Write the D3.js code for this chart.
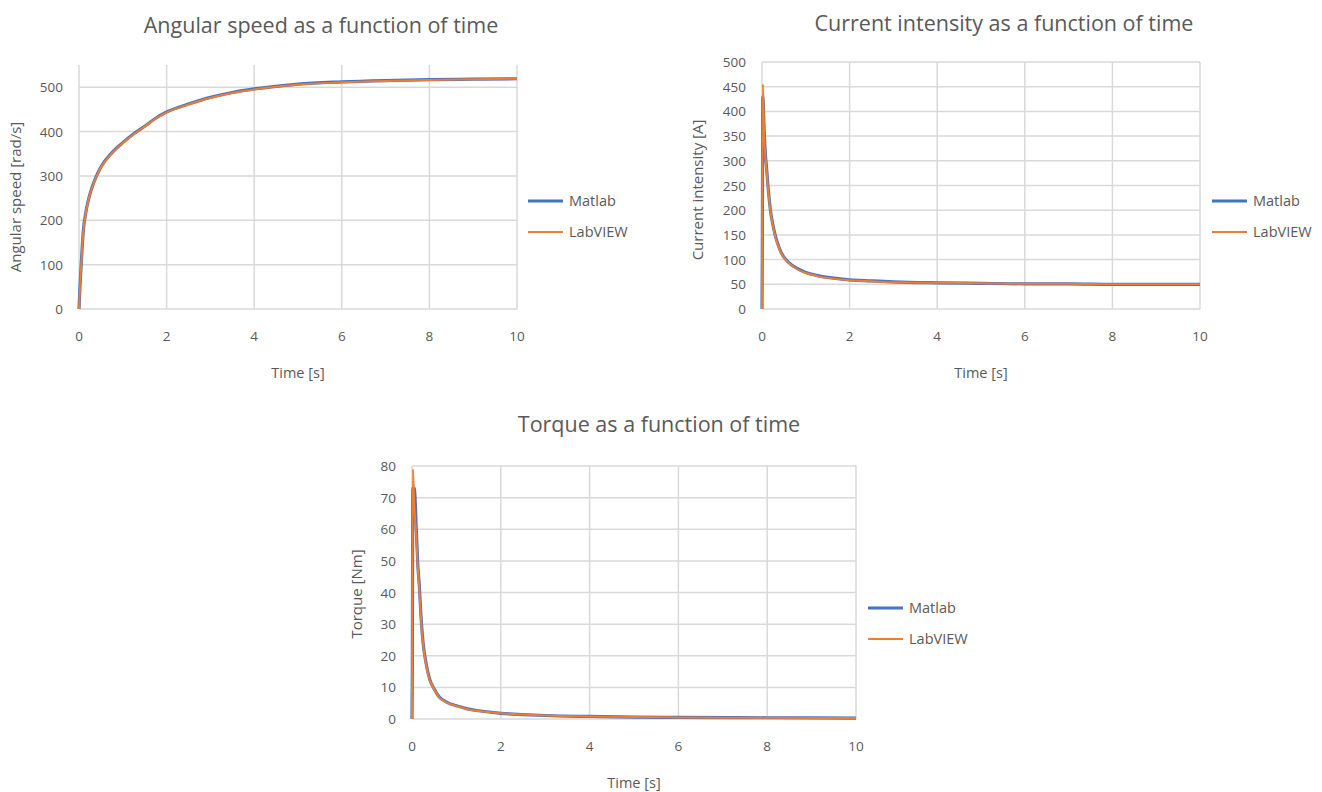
<!DOCTYPE html>
<html>
<head>
<meta charset="utf-8">
<script src="https://cdn.jsdelivr.net/npm/d3@7"></script>
<style>
  body { margin: 0; background: #fff; }
  text { font-family: "Open Sans", sans-serif; fill: #595959; }
</style>
</head>
<body>
<svg id="chart" width="1322" height="792"></svg>
<script>
// series names
var seriesNames = ['Matlab', 'LabVIEW'];
var seriesColors = ['#4472c4', '#ed7d31'];

// angular speed [rad/s] vs time [s]
var speedTime = [0, 0.02, 0.05, 0.1, 0.15, 0.2, 0.3, 0.4, 0.5, 0.75, 1, 1.25, 1.5, 1.75, 2, 2.5, 3, 3.5, 4, 4.5, 5, 6, 7, 8, 9, 10];
var speedMatlab = [0, 45, 100, 178, 214, 240, 275, 300, 320, 352, 375, 395, 412, 430, 444, 462, 477, 488, 496, 502, 507, 512, 515, 517, 518, 519];
var speedLabview = [0, 42, 98, 176, 213, 239, 274, 299, 319, 351, 374, 394, 411, 429, 443, 461, 476, 487, 495, 501, 506, 511, 514, 516, 518, 519];

// current intensity [A] vs time [s]
var currentTime = [0, 0.005, 0.02, 0.05, 0.08, 0.1, 0.15, 0.2, 0.25, 0.3, 0.4, 0.5, 0.6, 0.8, 1, 1.25, 1.5, 2, 2.5, 3, 4, 5, 6, 7, 8, 10];
var currentMatlab = [0, 80, 430, 360, 310, 290, 235, 195, 170, 150, 122, 105, 95, 82, 74, 68, 64, 59, 57, 55, 53, 52, 51, 51, 50, 50];
var currentLabview = [0, 200, 455, 350, 305, 285, 232, 193, 168, 148, 120, 104, 94, 81, 73, 67, 63, 58, 56, 54, 53, 52, 51, 51, 50, 50];

// torque [Nm] vs time [s]
var torqueTime = [0, 0.005, 0.02, 0.05, 0.1, 0.13, 0.17, 0.2, 0.25, 0.3, 0.4, 0.5, 0.6, 0.8, 1, 1.25, 1.5, 2, 2.5, 3, 4, 5, 6, 8, 10];
var torqueMatlab = [0, 10, 73, 73, 59, 49, 41, 33, 24, 19, 12.5, 9.5, 7.2, 5.2, 4.2, 3.2, 2.6, 1.8, 1.4, 1.1, 0.8, 0.6, 0.5, 0.4, 0.3];
var torqueLabview = [0, 30, 79, 68, 57, 48, 40, 32, 23.5, 18.5, 12.3, 9.3, 7.1, 5.1, 4.1, 3.1, 2.5, 1.8, 1.4, 1.1, 0.8, 0.6, 0.5, 0.4, 0.3];

var xTicks = [0, 2, 4, 6, 8, 10];

var svg = d3.select('#chart');

function drawChart(cfg) {
    var g = svg.append('g');
    var x = d3.scaleLinear().domain([0, 10]).range([cfg.left, cfg.right]);
    var y = d3.scaleLinear().domain([0, cfg.ymax]).range([cfg.bottom, cfg.top]);

    // gridlines
    g.selectAll('.hgrid').data(cfg.yTicks).enter().append('line')
        .attr('x1', cfg.left).attr('x2', cfg.right)
        .attr('y1', function(d) { return y(d); }).attr('y2', function(d) { return y(d); })
        .attr('stroke', '#d9d9d9').attr('stroke-width', 1.5);
    g.selectAll('.vgrid').data(xTicks).enter().append('line')
        .attr('x1', function(d) { return x(d); }).attr('x2', function(d) { return x(d); })
        .attr('y1', cfg.bottom).attr('y2', cfg.top)
        .attr('stroke', '#d9d9d9').attr('stroke-width', 1.5);

    // tick labels
    g.selectAll('.ylab').data(cfg.yTicks).enter().append('text')
        .attr('x', cfg.left - 16).attr('y', function(d) { return y(d) + 5; })
        .attr('text-anchor', 'end').attr('font-size', 13.5)
        .text(function(d) { return d; });
    g.selectAll('.xlab').data(xTicks).enter().append('text')
        .attr('x', function(d) { return x(d); }).attr('y', cfg.bottom + 32)
        .attr('text-anchor', 'middle').attr('font-size', 13.5)
        .text(function(d) { return d; });

    // series
    var line = d3.line()
        .x(function(d) { return x(d[0]); })
        .y(function(d) { return y(d[1]); })
        .curve(d3.curveMonotoneX);

    var mat = d3.zip(cfg.time, cfg.matlab);
    var lab = d3.zip(cfg.time, cfg.labview);
    g.append('path').attr('d', line(mat)).attr('fill', 'none')
        .attr('stroke', seriesColors[0]).attr('stroke-width', 3.2);
    g.append('path').attr('d', line(lab)).attr('fill', 'none')
        .attr('stroke', seriesColors[1]).attr('stroke-width', 2);

    // titles
    g.append('text').attr('x', cfg.titleX).attr('y', cfg.titleY)
        .attr('text-anchor', 'middle').attr('font-size', 21.5)
        .text(cfg.title);
    g.append('text').attr('x', (cfg.left + cfg.right) / 2).attr('y', cfg.bottom + 69)
        .attr('text-anchor', 'middle').attr('font-size', 14.5)
        .text('Time [s]');
    g.append('text')
        .attr('transform', 'translate(' + cfg.yLabelX + ',' + cfg.yLabelY + ') rotate(-90)')
        .attr('text-anchor', 'middle').attr('font-size', 15)
        .text(cfg.yLabel);

    // legend
    var leg = g.selectAll('.leg').data(seriesNames).enter().append('g')
        .attr('transform', function(d, i) { return 'translate(' + cfg.legX + ',' + (cfg.legY + i * 31) + ')'; });
    leg.append('line').attr('x1', 0).attr('x2', 35).attr('y1', 0).attr('y2', 0)
        .attr('stroke', function(d, i) { return seriesColors[i]; })
        .attr('stroke-width', function(d, i) { return i === 0 ? 3.2 : 2; });
    leg.append('text').attr('x', 41).attr('y', 5).attr('font-size', 14.5)
        .text(function(d) { return d; });
}

drawChart({
    left: 79, right: 517, top: 65, bottom: 309, ymax: 550,
    yTicks: [0, 100, 200, 300, 400, 500],
    time: speedTime, matlab: speedMatlab, labview: speedLabview,
    title: 'Angular speed as a function of time', titleX: 321, titleY: 33,
    yLabel: 'Angular speed [rad/s]', yLabelX: 21, yLabelY: 197,
    legX: 528, legY: 201
});

drawChart({
    left: 762, right: 1200, top: 62, bottom: 309, ymax: 500,
    yTicks: [0, 50, 100, 150, 200, 250, 300, 350, 400, 450, 500],
    time: currentTime, matlab: currentMatlab, labview: currentLabview,
    title: 'Current intensity as a function of time', titleX: 1004, titleY: 31,
    yLabel: 'Current intensity [A]', yLabelX: 703, yLabelY: 190,
    legX: 1212, legY: 201
});

drawChart({
    left: 412, right: 856, top: 466, bottom: 719, ymax: 80,
    yTicks: [0, 10, 20, 30, 40, 50, 60, 70, 80],
    time: torqueTime, matlab: torqueMatlab, labview: torqueLabview,
    title: 'Torque as a function of time', titleX: 659, titleY: 432,
    yLabel: 'Torque [Nm]', yLabelX: 362, yLabelY: 594,
    legX: 868, legY: 608
});
</script>
</body>
</html>
